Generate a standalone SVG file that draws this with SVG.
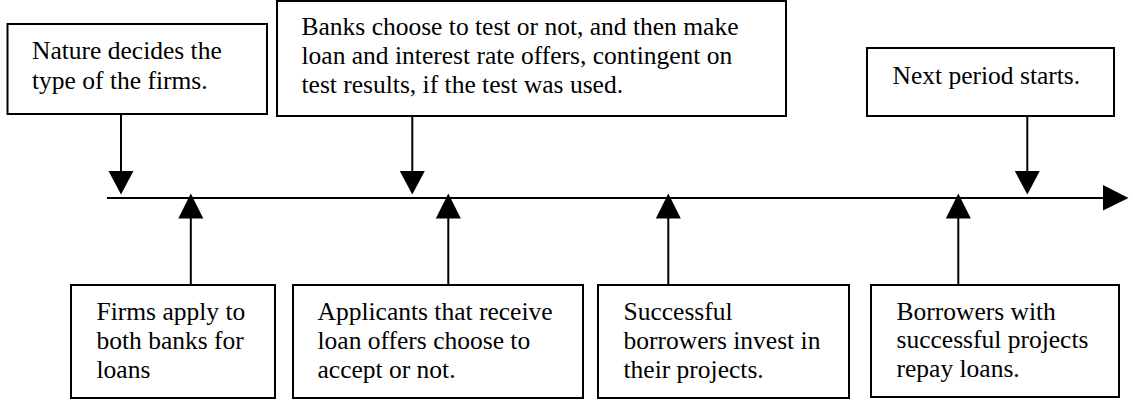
<svg xmlns="http://www.w3.org/2000/svg" width="1133" height="402" viewBox="0 0 1133 402">
<style>
.box{fill:#fff;stroke:#000;stroke-width:2}
.t{font-family:'Liberation Serif','Tinos','DejaVu Serif',serif;font-size:25.5px;fill:#000}
.ln{stroke:#000;stroke-width:2;fill:none}
.hd{fill:#000;stroke:none}
</style>
<rect width="1133" height="402" fill="#fff"/>
<g id="connectors">
  <line class="ln" x1="107" y1="198" x2="1106" y2="198"/>
  <polygon class="hd" points="1103,185 1128.5,198 1103,210.5"/>
  <line class="ln" x1="121" y1="114" x2="121" y2="174"/>
  <polygon class="hd" points="108.5,171 133.5,171 121,194.5"/>
  <line class="ln" x1="412.3" y1="116" x2="412.3" y2="174"/>
  <polygon class="hd" points="399.8,171 424.8,171 412.3,194.5"/>
  <line class="ln" x1="1027.3" y1="116" x2="1027.3" y2="174"/>
  <polygon class="hd" points="1014.8,171 1039.8,171 1027.3,194.5"/>
  <line class="ln" x1="190.8" y1="285" x2="190.8" y2="215"/>
  <polygon class="hd" points="178.3,218.5 203.3,218.5 190.8,193.5"/>
  <line class="ln" x1="448.3" y1="285" x2="448.3" y2="215"/>
  <polygon class="hd" points="435.8,218.5 460.8,218.5 448.3,193.5"/>
  <line class="ln" x1="668.3" y1="285" x2="668.3" y2="215"/>
  <polygon class="hd" points="655.8,218.5 680.8,218.5 668.3,193.5"/>
  <line class="ln" x1="958.3" y1="285" x2="958.3" y2="215"/>
  <polygon class="hd" points="945.8,218.5 970.8,218.5 958.3,193.5"/>
</g>
<g id="nature">
  <rect class="box" x="7.5" y="24" width="259.5" height="90"/>
  <text class="t" x="32" y="59">Nature decides the</text>
  <text class="t" x="32" y="89">type of the firms.</text>
</g>
<g id="banks">
  <rect class="box" x="277" y="1" width="509" height="115"/>
  <text class="t" x="301.5" y="35">Banks choose to test or not, and then make</text>
  <text class="t" x="301.5" y="64">loan and interest rate offers, contingent on</text>
  <text class="t" x="301.5" y="93">test results, if the test was used.</text>
</g>
<g id="next">
  <rect class="box" x="867" y="48" width="247" height="68"/>
  <text class="t" x="892.5" y="84">Next period starts.</text>
</g>
<g id="firms">
  <rect class="box" x="71" y="285" width="204" height="113"/>
  <text class="t" x="96.5" y="320">Firms apply to</text>
  <text class="t" x="96.5" y="349">both banks for</text>
  <text class="t" x="96.5" y="378">loans</text>
</g>
<g id="applicants">
  <rect class="box" x="293" y="285" width="290" height="113"/>
  <text class="t" x="317.5" y="320">Applicants that receive</text>
  <text class="t" x="317.5" y="349">loan offers choose to</text>
  <text class="t" x="317.5" y="378">accept or not.</text>
</g>
<g id="successful">
  <rect class="box" x="598" y="285" width="251" height="113"/>
  <text class="t" x="623.5" y="320">Successful</text>
  <text class="t" x="623.5" y="349">borrowers invest in</text>
  <text class="t" x="623.5" y="378">their projects.</text>
</g>
<g id="borrowers">
  <rect class="box" x="871" y="285" width="248" height="112"/>
  <text class="t" x="896.5" y="320">Borrowers with</text>
  <text class="t" x="896.5" y="348">successful projects</text>
  <text class="t" x="896.5" y="377">repay loans.</text>
</g>
</svg>
